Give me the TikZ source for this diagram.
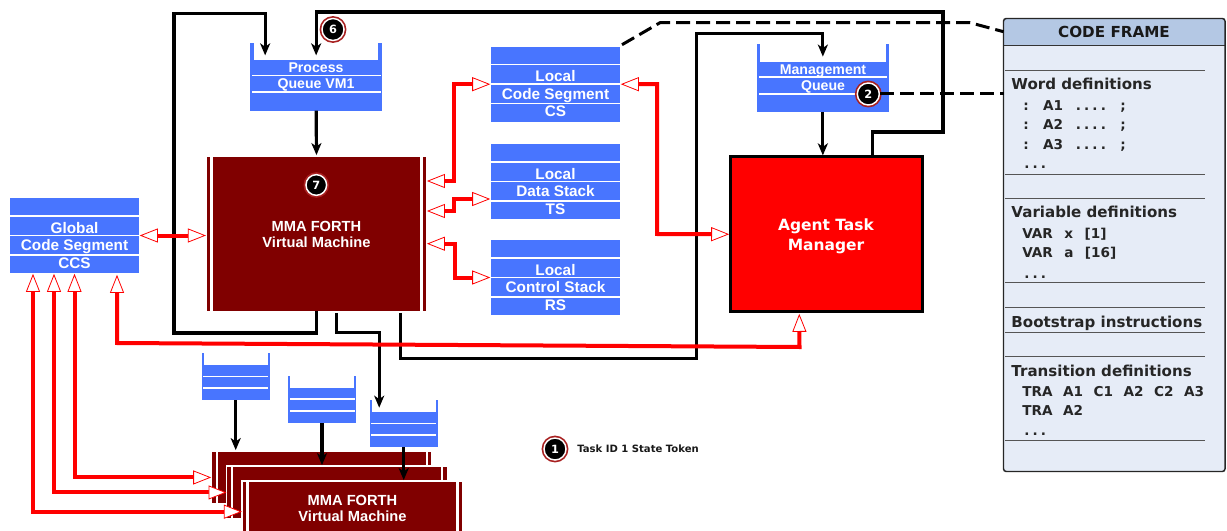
\documentclass[tikz,border=0pt]{standalone}
\usepackage{fontspec}
\setmainfont{Liberation Sans}
\newfontfamily\lucida{DejaVu Sans}
\newfontfamily\lucidadots[LetterSpace=23]{DejaVu Sans}
\usetikzlibrary{arrows.meta,calc}
\definecolor{qblue}{HTML}{4875FF}
\definecolor{vmred}{HTML}{800000}
\definecolor{ringred}{HTML}{A82020}
\definecolor{hdr}{HTML}{B4C8E4}
\definecolor{frm}{HTML}{E6ECF7}
\definecolor{sep}{HTML}{555555}
\tikzset{
  boxbase/.style={inner sep=0pt,outer sep=0pt},
  stxt/.style={font=\fontsize{11.5pt}{13pt}\selectfont\bfseries,text=white,inner sep=0pt,anchor=base},
  qtxt/.style={font=\fontsize{10.6pt}{13pt}\selectfont\bfseries,text=white,inner sep=0pt,anchor=base},
  vtxt/.style={font=\fontsize{11pt}{13pt}\selectfont\bfseries,text=white,inner sep=0pt,anchor=base},
  atxt/.style={font=\lucida\fontsize{11.6pt}{14pt}\selectfont\bfseries,text=white,inner sep=0pt,anchor=base},
  head/.style={font=\lucida\fontsize{11.3pt}{14pt}\selectfont\bfseries,text=black!85,inner sep=0pt,anchor=base west},
  code/.style={font=\lucida\fontsize{10.2pt}{14pt}\selectfont\bfseries,text=black!85,inner sep=0pt,anchor=base west},
  blk/.style={draw=black,line width=2.4pt,-{Stealth[length=9pt,width=7.5pt,inset=2.5pt]},shorten >=1.2pt},
  redl/.style={draw=red,line width=3pt,
    {Triangle[length=13.5pt,width=10.5pt,fill=white,color=red,line width=.6pt]}-{Triangle[length=13.5pt,width=10.5pt,fill=white,color=red,line width=.6pt]},
    shorten >=.6pt,shorten <=.6pt},
  dashl/.style={draw=black,line width=2.25pt,dash pattern=on 10.5pt off 4.5pt},
  badge/.style={circle,fill=black,draw=white,line width=1.1pt,inner sep=0pt,minimum size=16.5pt,
    preaction={draw=ringred,line width=3.6pt},text=white,font=\lucida\fontsize{8.5pt}{9pt}\selectfont\bfseries},
  sepl/.style={draw=sep,line width=.7pt}
}
\newcommand{\bx}[6]{\node[boxbase,#6,minimum width={((#4)-(#2))*.75pt},minimum height={((#5)-(#3))*.75pt}] (#1) at ({((#2)+(#4))/2},{((#3)+(#5))/2}) {};}
\newcommand{\wline}[3]{\fill[white] ({#1},{#3-.8}) rectangle ({#2},{#3+.8});}
% name, x1, ytop, three texts
\newcommand{\stackb}[6]{%
  \bx{#1}{#2}{#3}{#2+129}{#3+75}{fill=qblue}
  \wline{#2}{#2+129}{#3+18}
  \wline{#2}{#2+129}{#3+37.3}
  \wline{#2}{#2+129}{#3+56.7}
  \node[stxt] (#1-a) at ({#2+64.5},{#3+35.3}) {#4};
  \node[stxt] (#1-b) at ({#2+64.5},{#3+52.7}) {#5};
  \node[stxt] (#1-c) at ({#2+64.5},{#3+70.2}) {#6};
}
% name, x1, x2, walltop, filltop, l1, l2, bottom, wallwidth
\newcommand{\queueb}[9]{%
  \fill[qblue] (#2,#4) rectangle ({#2+#9},#5);
  \fill[qblue] ({#3-#9},#4) rectangle (#3,#5);
  \bx{#1}{#2}{#5}{#3}{#8}{fill=qblue}
  \wline{#2+1.5}{#3-1.5}{#6}
  \wline{#2+1.5}{#3-1.5}{#7}
}
% name, main x1, ytop, height
\newcommand{\vmb}[4]{%
  \fill[white] ({#2-7.5},{#3-1.5}) rectangle ({#2+215},{#3+#4+1.5});
  \bx{#1-l}{#2-6}{#3}{#2-2.4}{#3+#4}{fill=vmred}
  \bx{#1-r}{#2+210}{#3}{#2+213.4}{#3+#4}{fill=vmred}
  \bx{#1}{#2}{#3}{#2+207.6}{#3+#4}{fill=vmred}
}
\begin{document}
\begin{tikzpicture}[x=.75pt,y=-.75pt]
\useasboundingbox (0,0) rectangle (1227,531);
\clip (0,0) rectangle (1227,531);
\fill[white] (0,0) rectangle (1227,531);

% stacks
\stackb{gcs}{10}{198}{Global}{Code Segment}{CCS}
\stackb{cs}{491}{46.7}{Local}{Code Segment}{CS}
\stackb{ts}{491}{144}{Local}{Data Stack}{TS}
\stackb{rs}{491}{240}{Local}{Control Stack}{RS}

% queues
\queueb{pq}{250.3}{382}{43}{60}{75.7}{92.3}{110.7}{3.7}
\node[qtxt] (pq-a) at (316,72.3) {Process};
\node[qtxt] (pq-b) at (316,89) {Queue VM1};
\queueb{mq}{757}{888.7}{44}{61.7}{77.3}{94}{112.3}{3}
\node[qtxt] (mq-a) at (823,74.3) {Management};
\node[qtxt] (mq-b) at (823,90.7) {Queue};
\queueb{qa}{201.7}{269.7}{353.3}{365.3}{376.3}{387.7}{400.3}{2}
\queueb{qb}{288}{356}{376}{387.7}{399}{410.7}{423.3}{2}
\queueb{qc}{369.7}{437.7}{400.3}{412.3}{423.3}{434.7}{447.3}{2}

% virtual machines
\vmb{vm}{212.7}{156.7}{154.6}
\node[vtxt] (vm-a) at (316.5,231.7) {MMA FORTH};
\node[vtxt] (vm-b) at (316.5,247.7) {Virtual Machine};
\vmb{vma}{218}{451.7}{51.5}
\vmb{vmb}{233.3}{466.7}{51.5}
\vmb{vmc}{248.7}{481.7}{60}
\node[vtxt] (vmc-a) at (352.5,505.3) {MMA FORTH};
\node[vtxt] (vmc-b) at (352.5,521.5) {Virtual Machine};

% agent task manager
\bx{atm}{730}{157}{922.5}{311.5}{fill=red,draw=black,line width=2.25pt}
\node[atxt] (atm-a) at (826,230.7) {Agent Task};
\node[atxt] (atm-b) at (826,250) {Manager};

% code frame
\bx{fr}{1003.5}{18.5}{1225}{471.5}{fill=frm}
\fill[hdr,rounded corners=2pt] (1003.5,45.5) [sharp corners] -- (1003.5,30) [rounded corners=2pt] -- (1003.5,18.5) -- (1225,18.5) -- (1225,30) [sharp corners] -- (1225,45.5) -- cycle;
\draw[line width=1pt,black!80] (1003.5,45.5) -- (1225,45.5);
\draw[line width=1.1pt,black!85,rounded corners=2pt] (fr.north west) rectangle (fr.south east);
\node[font=\lucida\fontsize{11.4pt}{14pt}\selectfont\bfseries,text=black!90,inner sep=0pt,anchor=base] (fr-t) at (1114,37.7) {CODE FRAME};
\foreach \yy in {70.3,174,198.7,282.7,307.3,332,356.3,440.3} {\draw[sepl] (1005,\yy) -- (1205,\yy);}
\node[head] (h1) at (1011.2,89.3) {Word definitions};
\node[code] (c1) at (1023,110.5) {\spaceskip=9.6pt : A1 {\lucidadots\bfseries ....} ;};
\node[code] (c2) at (1023,130) {\spaceskip=9.6pt : A2 {\lucidadots\bfseries ....} ;};
\node[code] (c3) at (1023,150) {\spaceskip=9.6pt : A3 {\lucidadots\bfseries ....} ;};
\node[code] (c4) at (1024,169) {\lucidadots\bfseries ...};
\node[head] (h2) at (1011.2,217.7) {Variable definitions};
\node[code] (c5) at (1022,238) {\spaceskip=8.6pt VAR x [1]};
\node[code] (c6) at (1022,257.7) {\spaceskip=8.6pt VAR a [16]};
\node[code] (c7) at (1024,278) {\lucidadots\bfseries ...};
\node[head] (h3) at (1011.2,327.3) {Bootstrap instructions};
\node[head] (h4) at (1011.2,376) {Transition definitions};
\node[code] (c8) at (1022,396) {\spaceskip=7.9pt TRA A1 C1 A2 C2 A3};
\node[code] (c9) at (1022,415.7) {\spaceskip=7.9pt TRA A2};
\node[code] (c10) at (1024,435.7) {\lucidadots\bfseries ...};

% black connectors
\draw[blk] (pq.south) -- (vm.north);
\draw[blk] (vm.south) |- (174,333) -- (174,13.5) -| ($(pq.north)+(-51,-3)$);
\draw[blk] ($(atm.north)+(46,0)$) |- (943,132) -- (943,12) -| ($(pq.north)+(0,-3)$);
\draw[blk] ($(vm.south)+(20,1.5)$) |- ($(qc.north)+(-24.5,-80)$) -- ($(qc.north)+(-24.5,-3)$);
\draw[blk] ($(vm.south)+(84,1.5)$) |- (696.5,358.5) -- (696.5,33.5) -| ($(mq.north)+(0,-3.5)$);
\draw[blk] (mq.south) -- (mq.south |- atm.north);
\draw[blk] (qa.south) -- (qa.south |- vma.north);
\draw[blk] (qb.south) -- (qb.south |- vmb.north);
\draw[blk] (qc.south) -- (qc.south |- vmc.north);

% red connectors
\draw[redl] (gcs.east) -- (gcs.east -| vm-l.west);
\draw[redl] ($(vm-r.east)+(0,-53)$) -- (454,181) |- (cs.west);
\draw[redl] ($(vm-r.east)+(0,-23)$) -- (454,211) |- ($(ts.west)+(0,17.5)$);
\draw[redl] ($(vm-r.east)+(0,9.7)$) -- (455,243.7) |- (rs.west);
\draw[redl] (cs.east) -| (657,234) -- (atm.west);
\draw[redl] ($(atm.south)+(-27,1.5)$) -- (799.5,347) -- (117,343) -- ($(gcs.south)+(42.5,1)$);
\draw[redl] (gcs.south) |- (vma-l.west);
\draw[redl] ($(gcs.south)+(-20.5,0)$) |- (vmb-l.west);
\draw[redl] ($(gcs.south)+(-41.5,0)$) |- (vmc-l.west);

% dashed connectors
\draw[dashl] ($(cs.north east)+(2,-2)$) -- (660,22.7) -- (970,22.7) -- ($(fr.north west)+(0,13.2)$);
\node[badge] (b2) at (868.3,94) {2};
\draw[dashl] (b2.east) -- ($(fr.north west)+(0,75.5)$);

% badges
\node[badge] (b6) at (333,29.5) {6};
\node[badge,minimum size=15.5pt] (b7) at (316.3,185) {7};
\node[badge] (b1) at (555,449) {1};
\node[font=\lucida\fontsize{7.55pt}{9pt}\selectfont\bfseries,text=black!90,inner sep=0pt,anchor=base west] (b1-t) at (577,452.5) {Task ID 1 State Token};
\end{tikzpicture}
\end{document}
